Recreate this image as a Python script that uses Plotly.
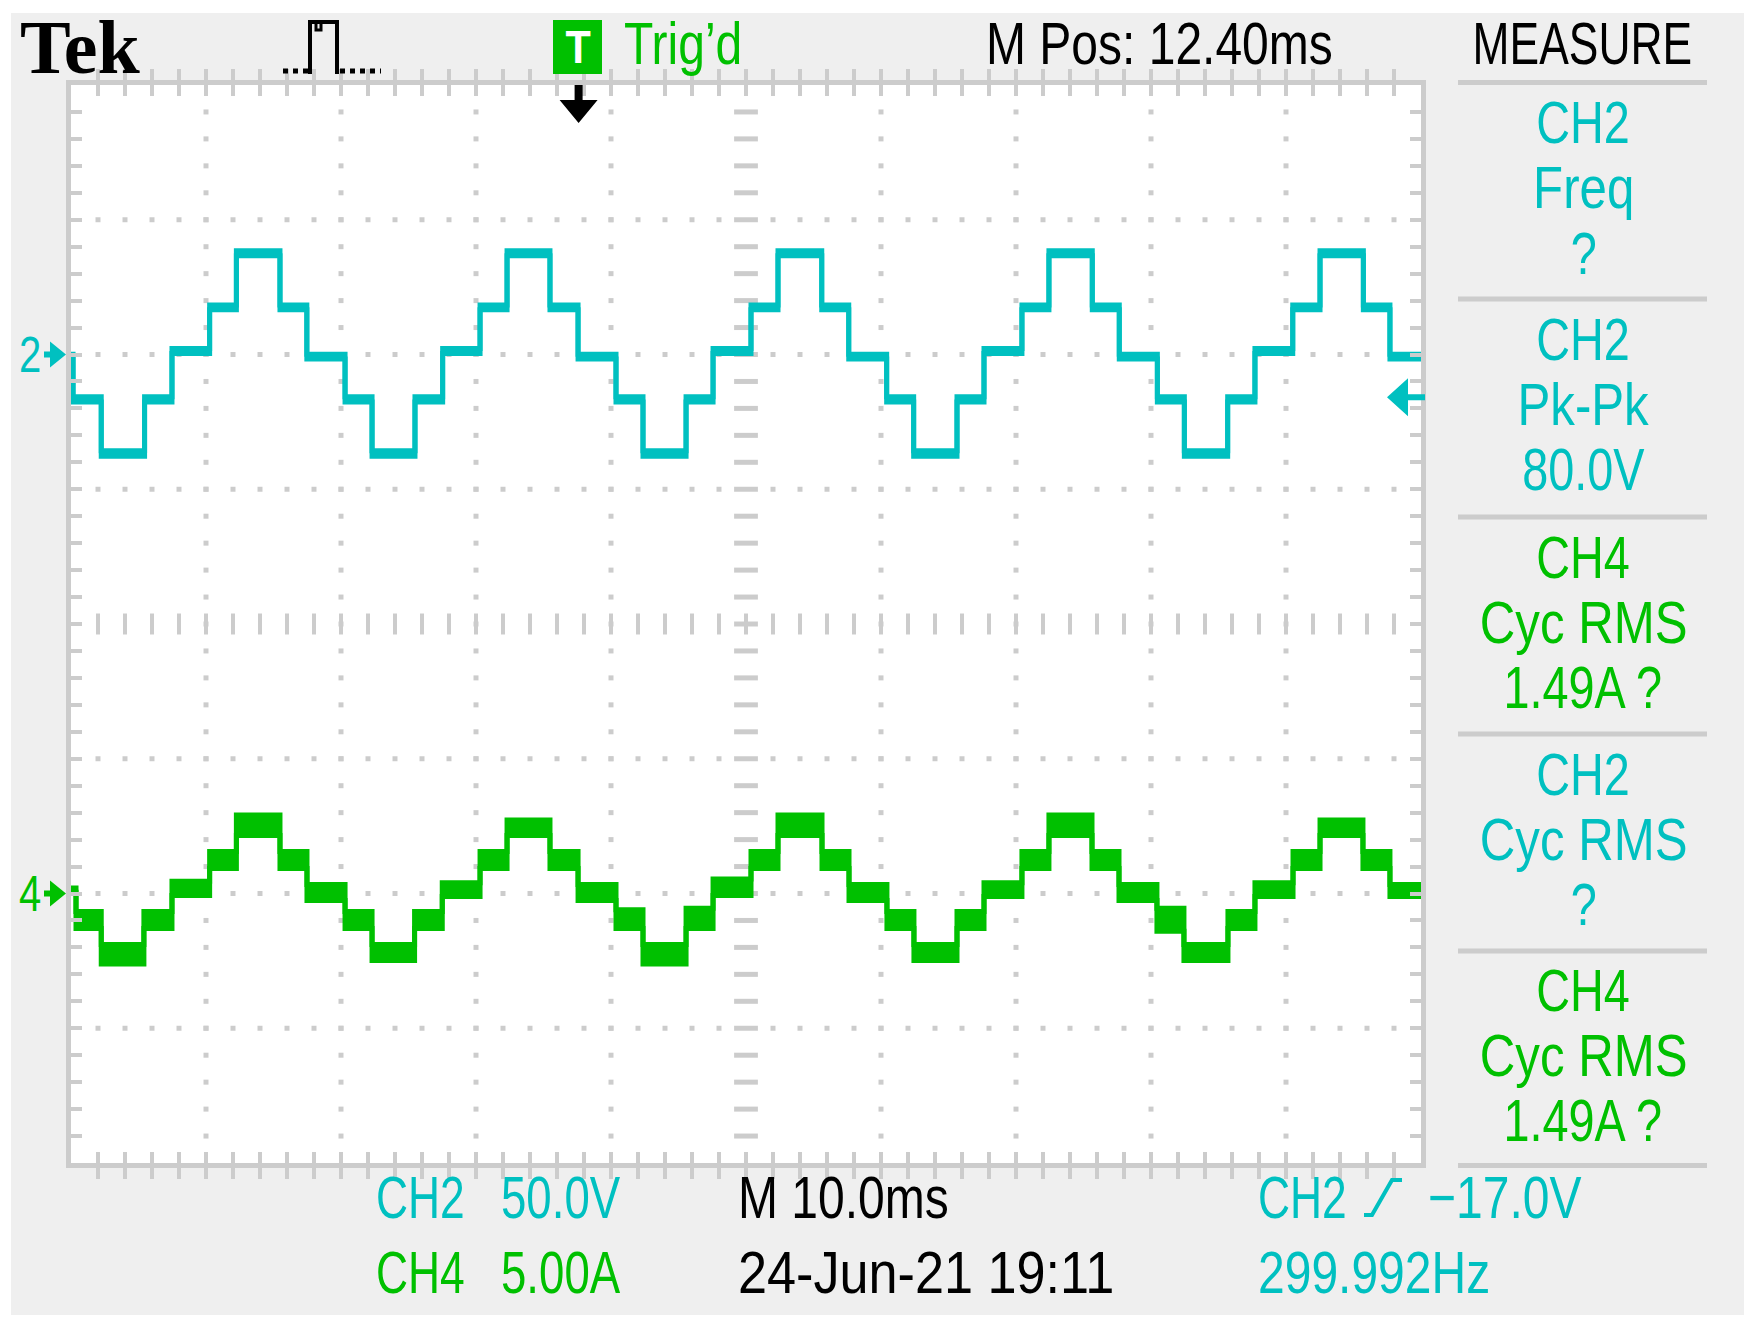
import plotly.graph_objects as go

# ---------------- data ----------------
time_per_div_ms = 10.0
ch2_volts_per_div = 50.0
ch4_amps_per_div = 5.0
ch2_ground_div = 2      # CH2 ground marker, divisions above centre
ch4_ground_div = -2     # CH4 ground marker, divisions below centre
m_pos_ms = 12.40
ch2_trigger_level_v = -17.0

# CH2 voltage staircase: step instants [ms] and sampled upper / lower envelope per plateau [V]
ch2_time_ms = [0.0, 0.15, 2.24, 5.45, 7.48, 10.27, 12.25, 15.48, 17.47, 20.30, 22.30,
               25.48, 27.53, 30.30, 32.30, 35.48, 37.56, 40.37, 42.37, 45.56, 47.56,
               50.37, 52.37, 55.61, 57.61, 60.42, 62.42, 65.63, 67.63, 70.44, 72.44,
               75.65, 77.65, 80.47, 82.47, 85.68, 87.70, 90.50, 92.52, 95.73, 97.70, 100.0]
ch2_upper_v = [0.1, -15.7, -35.7, -15.7, 2.2, 18.4, 38.5, 18.4,
               0.1, -15.7, -35.7, -15.7, 2.2, 18.4, 38.5, 18.4,
               0.1, -15.7, -35.7, -15.7, 2.2, 18.4, 38.5, 18.4,
               0.1, -15.7, -35.7, -15.7, 2.2, 18.4, 38.5, 18.4,
               0.1, -15.7, -35.7, -15.7, 2.2, 18.4, 38.5, 18.4,
               0.1, 0.1]
ch2_lower_v = [-1.7, -17.6, -37.8, -17.6, 0.4, 16.6, 36.6, 16.6,
               -1.7, -17.6, -37.8, -17.6, 0.4, 16.6, 36.6, 16.6,
               -1.7, -17.6, -37.8, -17.6, 0.4, 16.6, 36.6, 16.6,
               -1.7, -17.6, -37.8, -17.6, 0.4, 16.6, 36.6, 16.6,
               -1.7, -17.6, -37.8, -17.6, 0.4, 16.6, 36.6, 16.6,
               -1.7, -1.7]

# CH4 current staircase [ms] / [A]
ch4_time_ms = [0.0, 0.37, 2.24, 5.40, 7.48, 10.27, 12.25, 15.48, 17.48, 20.30, 22.30,
               25.45, 27.50, 30.30, 32.30, 35.48, 37.56, 40.37, 42.37, 45.56, 47.56,
               50.37, 52.37, 55.63, 57.63, 60.44, 62.44, 65.63, 67.63, 70.44, 72.44,
               75.63, 77.63, 80.44, 82.44, 85.70, 87.70, 90.52, 92.52, 95.70, 97.70, 100.0]
ch4_upper_a = [0.20, -0.67, -1.89, -0.67, 0.45, 1.56, 2.91, 1.56,
               0.33, -0.67, -1.89, -0.67, 0.40, 1.56, 2.73, 1.56,
               0.33, -0.60, -1.89, -0.55, 0.54, 1.56, 2.91, 1.56,
               0.33, -0.67, -1.89, -0.67, 0.40, 1.56, 2.91, 1.56,
               0.33, -0.55, -1.89, -0.67, 0.40, 1.56, 2.73, 1.56,
               0.33, 0.33]
ch4_lower_a = [0.05, -1.30, -2.62, -1.30, -0.07, 0.93, 2.15, 0.93,
               -0.26, -1.30, -2.49, -1.30, -0.11, 0.93, 2.15, 0.93,
               -0.26, -1.30, -2.62, -1.30, -0.07, 0.93, 2.15, 0.93,
               -0.26, -1.30, -2.49, -1.30, -0.11, 0.93, 2.15, 0.93,
               -0.26, -1.40, -2.49, -1.30, -0.11, 0.93, 2.15, 0.93,
               -0.11, -0.11]

measure_rows = [("CH2", "Freq", "?", "ch2"),
                ("CH2", "Pk-Pk", "80.0V", "ch2"),
                ("CH4", "Cyc RMS", "1.49A ?", "ch4"),
                ("CH2", "Cyc RMS", "?", "ch2"),
                ("CH4", "Cyc RMS", "1.49A ?", "ch4")]
ch2_scale_label = ("CH2", "50.0V")
ch4_scale_label = ("CH4", "5.00A")
timebase_label = "M 10.0ms"
date_label = "24-Jun-21 19:11"
trigger_label = ("CH2", "\u221217.0V")
freq_label = "299.992Hz"
mpos_label = "M Pos: 12.40ms"

# ---------------- styling ----------------
CYAN = "#00c0c0"
GREEN = "#00c000"
GRID = "#cccccc"
PANEL = "#efefef"
SANS = "Liberation Sans, Arial, sans-serif"

W, H = 1758, 1329
L, R, T, B = 71, 1421, 85, 1163          # plot area in pixels
ND_X, ND_Y = 10, 8


def px(x):
    return (x - L) / (R - L)


def py(y):
    return (B - y) / (B - T)


def pth(points, close=True):
    s = "M" + " L".join(f"{px(a):.5f},{py(b):.5f}" for a, b in points)
    return s + (" Z" if close else "")


x_range = [0, ND_X * time_per_div_ms]
y_range = [(-ND_Y / 2 - ch2_ground_div) * ch2_volts_per_div,
           (ND_Y / 2 - ch2_ground_div) * ch2_volts_per_div]
y2_range = [(-ND_Y / 2 - ch4_ground_div) * ch4_amps_per_div,
            (ND_Y / 2 - ch4_ground_div) * ch4_amps_per_div]

fig = go.Figure()

# ---- graticule dots and centre ticks ----
sub_x = time_per_div_ms / 5
sub_y = ch2_volts_per_div / 5
dot_x, dot_y = [], []
for k in range(1, ND_Y):
    if k == ND_Y // 2:
        continue
    yv = y_range[1] - k * ch2_volts_per_div
    for j in range(1, ND_X * 5):
        if j == ND_X * 5 // 2:
            continue
        dot_x.append(j * sub_x)
        dot_y.append(yv)
for k in range(1, ND_X):
    if k == ND_X // 2:
        continue
    for j in range(1, ND_Y * 5):
        dot_x.append(k * time_per_div_ms)
        dot_y.append(y_range[0] + j * sub_y)
fig.add_trace(go.Scatter(x=dot_x, y=dot_y, mode="markers", hoverinfo="skip",
                         marker=dict(symbol="square", size=5, color=GRID, line=dict(width=0)),
                         showlegend=False))
cy = (y_range[0] + y_range[1]) / 2
cx = (x_range[0] + x_range[1]) / 2
fig.add_trace(go.Scatter(x=[j * sub_x for j in range(1, ND_X * 5)],
                         y=[cy] * (ND_X * 5 - 1), mode="markers", hoverinfo="skip",
                         marker=dict(symbol="line-ns", size=15, line=dict(width=4, color=GRID)),
                         showlegend=False))
fig.add_trace(go.Scatter(x=[cx] * (ND_Y * 5 - 1),
                         y=[y_range[0] + j * sub_y for j in range(1, ND_Y * 5)],
                         mode="markers", hoverinfo="skip",
                         marker=dict(symbol="line-ew", size=17, line=dict(width=5, color=GRID)),
                         showlegend=False))

# ---- waveforms ----
fig.add_trace(go.Scatter(x=ch2_time_ms, y=ch2_upper_v, mode="lines", line_shape="hv",
                         line=dict(color=CYAN, width=5), showlegend=False, hoverinfo="skip"))
fig.add_trace(go.Scatter(x=ch2_time_ms, y=ch2_lower_v, mode="lines", line_shape="hv",
                         line=dict(color=CYAN, width=5), fill="tonexty", fillcolor=CYAN,
                         showlegend=False, hoverinfo="skip"))
fig.add_trace(go.Scatter(x=ch4_time_ms, y=ch4_upper_a, yaxis="y2", mode="lines", line_shape="hv",
                         line=dict(color=GREEN, width=5), showlegend=False, hoverinfo="skip"))
fig.add_trace(go.Scatter(x=ch4_time_ms, y=ch4_lower_a, yaxis="y2", mode="lines", line_shape="hv",
                         line=dict(color=GREEN, width=5), fill="tonexty", fillcolor=GREEN,
                         showlegend=False, hoverinfo="skip"))

shapes = []
# grey instrument panel + white screen
shapes.append(dict(type="rect", xref="paper", yref="paper", x0=px(11), x1=px(1744),
                   y0=py(1315), y1=py(13), fillcolor=PANEL, line=dict(width=0), layer="below"))
shapes.append(dict(type="rect", xref="paper", yref="paper", x0=0, x1=1, y0=0, y1=1,
                   fillcolor="white", line=dict(width=0), layer="below"))
# measure panel separators
for ys in [82.5, 299, 517, 734, 951, 1165.5]:
    shapes.append(dict(type="line", xref="paper", yref="paper", x0=px(1458), x1=px(1707),
                       y0=py(ys), y1=py(ys), line=dict(color=GRID, width=5)))
# trigger "T" box
shapes.append(dict(type="rect", xref="paper", yref="paper", x0=px(553), x1=px(602),
                   y0=py(74), y1=py(20), fillcolor=GREEN, line=dict(width=0)))
# pulse icon
shapes.append(dict(type="path", xref="paper", yref="paper",
                   path=pth([(310, 74), (310, 22), (337, 22), (337, 74)], close=False),
                   line=dict(color="black", width=4)))
shapes.append(dict(type="line", xref="paper", yref="paper", x0=px(283), x1=px(308),
                   y0=py(71), y1=py(71), line=dict(color="black", width=5, dash="dot")))
shapes.append(dict(type="line", xref="paper", yref="paper", x0=px(340), x1=px(381),
                   y0=py(71), y1=py(71), line=dict(color="black", width=5, dash="dot")))
shapes.append(dict(type="path", xref="paper", yref="paper",
                   path=pth([(316, 24), (316, 30), (321, 30), (321, 24)], close=False),
                   line=dict(color="black", width=3)))
# trigger position arrow (top)
trig_t = cx - m_pos_ms
shapes.append(dict(type="path", xref="x", yref="paper", xsizemode="pixel", ysizemode="pixel",
                   xanchor=trig_t, yanchor=1,
                   path="M-4,0 L4,0 L4,-15 L19,-15 L0,-38 L-19,-15 L-4,-15 Z",
                   fillcolor="black", line=dict(width=0)))
# trigger level arrow (right edge)
shapes.append(dict(type="path", xref="paper", yref="y", xsizemode="pixel", ysizemode="pixel",
                   xanchor=1, yanchor=ch2_trigger_level_v,
                   path="M-34,3 L-13,22 L-13,6 L4,6 L4,0 L-13,0 L-13,-16 Z",
                   fillcolor=CYAN, line=dict(width=0)))
# ground markers
gm = "M-27,-3 L-21,-3 L-21,-13 L-5,0 L-21,13 L-21,3 L-27,3 Z"
shapes.append(dict(type="path", xref="paper", yref="y", xsizemode="pixel", ysizemode="pixel",
                   xanchor=0, yanchor=0, path=gm, fillcolor=CYAN, line=dict(width=0)))
shapes.append(dict(type="path", xref="paper", yref="y2", xsizemode="pixel", ysizemode="pixel",
                   xanchor=0, yanchor=0, path=gm, fillcolor=GREEN, line=dict(width=0)))
# rising-edge slope symbol
shapes.append(dict(type="path", xref="paper", yref="paper",
                   path=pth([(1364, 1215), (1372, 1215), (1392, 1180), (1402, 1180)], close=False),
                   line=dict(color=CYAN, width=4)))

ann = []


def text(s, x, y, color="black", size=60, anchor="left", family=SANS, yref="paper",
         bold=False, squeeze=0.8):
    ann.append(dict(text=f"<b>{s}</b>" if bold else s, x=px(x), y=py(y) if yref == "paper" else y,
                    xref="paper", yref=yref, xanchor=anchor, yanchor="middle", showarrow=False,
                    name=f"{squeeze}", font=dict(family=family, size=size, color=color)))


text("Tek", 18, 47, size=76, family="Liberation Serif, DejaVu Serif, serif", bold=True, squeeze=1.0)
text("T", 578, 47, color="white", size=46, anchor="center", bold=True, squeeze=0.9)
text("Trig\u2019d", 622, 44, color=GREEN)
text(mpos_label, 984, 44)
text("MEASURE", 1582, 44, anchor="center", squeeze=0.74)

row_top = [123, 340, 557, 774, 990]
for (ch, name, val, c), y0 in zip(measure_rows, row_top):
    col = CYAN if c == "ch2" else GREEN
    text(ch, 1583, y0, color=col, anchor="center", squeeze=0.78)
    text(name, 1583, y0 + 65, color=col, anchor="center", squeeze=0.82)
    text(val, 1583, y0 + 130, color=col, anchor="center", squeeze=0.78)

text(ch2_scale_label[0], 374, 1197, color=CYAN, squeeze=0.74)
text(ch2_scale_label[1], 499, 1197, color=CYAN, squeeze=0.76)
text(ch4_scale_label[0], 374, 1272, color=GREEN, squeeze=0.74)
text(ch4_scale_label[1], 499, 1272, color=GREEN, squeeze=0.76)
text(timebase_label, 736, 1197)
text(date_label, 736, 1272, squeeze=0.87)
text(trigger_label[0], 1256, 1197, color=CYAN, squeeze=0.74)
text(trigger_label[1], 1426, 1197, color=CYAN)
text(freq_label, 1256, 1272, color=CYAN)

for ref, col in (("y", CYAN), ("y2", GREEN)):
    ann.append(dict(text="2" if ref == "y" else "4", x=px(17), y=0, xref="paper", yref=ref,
                    xanchor="left", yanchor="middle", showarrow=False, name="0.8",
                    font=dict(family=SANS, size=50, color=col)))

axis_common = dict(showgrid=False, zeroline=False, showline=True, linecolor=GRID, linewidth=5,
                   mirror="allticks", ticks="inside", tickcolor=GRID, ticklen=11, tickwidth=4,
                   showticklabels=False, fixedrange=True)

fig.update_layout(
    width=W, height=H,
    margin=dict(l=L, r=W - R, t=T, b=H - B, autoexpand=False),
    paper_bgcolor="white", plot_bgcolor="rgba(0,0,0,0)",
    xaxis=dict(range=x_range, dtick=sub_x, tick0=0, **axis_common),
    yaxis=dict(range=y_range, dtick=sub_y, tick0=0, **axis_common),
    yaxis2=dict(range=y2_range, overlaying="y", visible=False, fixedrange=True),
    shapes=shapes, annotations=ann, showlegend=False,
)

# horizontally condense the annotation texts (scope's narrow pixel font)
post = """
document.body.style.margin='0';document.body.style.overflow='hidden';
var gd = document.getElementById('{plot_id}');
var anns = gd._fullLayout.annotations;
gd.querySelectorAll('g.annotation').forEach(function(g){
  var i = parseInt(g.getAttribute('data-index'));
  var a = anns[i]; if(!a || !a.name) return;
  var s = parseFloat(a.name); if(!(s > 0) || s === 1) return;
  var t = g.querySelector('text.annotation-text'); if(!t) return;
  var b = t.getBBox();
  var ox = a.xanchor === 'left' ? b.x : (a.xanchor === 'right' ? b.x + b.width : b.x + b.width / 2);
  t.setAttribute('transform', 'translate(' + (ox * (1 - s)) + ',0) scale(' + s + ',1)');
});
"""

fig.write_html("out.html", post_script=post, config={"displayModeBar": False, "staticPlot": True})
